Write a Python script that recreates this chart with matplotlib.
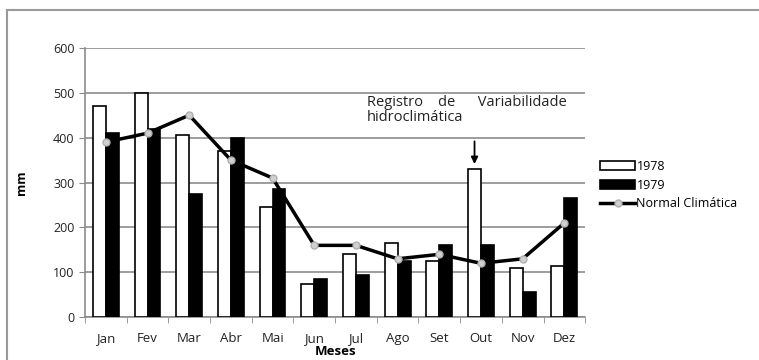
import numpy as np
import matplotlib
matplotlib.use("Agg")
import matplotlib.pyplot as plt
from matplotlib.patches import Rectangle

plt.rcParams['font.family'] = ['Open Sans', 'DejaVu Sans']

meses = ["Jan", "Fev", "Mar", "Abr", "Mai", "Jun", "Jul", "Ago", "Set", "Out", "Nov", "Dez"]
chuva_1978 = [470, 500, 405, 370, 245, 75, 140, 165, 125, 330, 110, 115]
chuva_1979 = [410, 420, 275, 400, 285, 85, 95, 125, 160, 160, 55, 265]
normal = [390, 410, 450, 350, 310, 160, 160, 130, 140, 120, 130, 210]

fig = plt.figure(figsize=(7.59, 3.6), dpi=100)
fig.patch.set_facecolor("white")

# moldura cinza da imagem original
fig.patches.append(Rectangle((7/759, -0.05), 1.1, 1 - 10/360 + 0.05, transform=fig.transFigure,
                             fill=False, edgecolor="#9a9a9a", linewidth=1.5))

ax = fig.add_axes([0.112, 0.119, 0.659, 0.748])

x = np.arange(len(meses))
w = 0.31
b1 = ax.bar(x - w/2, chuva_1978, w, color="white", edgecolor="black", linewidth=1.2, label="1978", zorder=3)
b2 = ax.bar(x + w/2, chuva_1979, w, color="black", edgecolor="black", linewidth=1.2, label="1979", zorder=3)
ln, = ax.plot(x, normal, color="black", linewidth=2.5, marker="o", markersize=5,
              markerfacecolor="#d0d0d0", markeredgecolor="#b0b0b0", label="Normal Climática", zorder=4)

ax.set_xlim(-0.5, len(meses) - 0.5)
ax.set_ylim(0, 600)
ax.set_yticks(range(0, 601, 100))
ax.yaxis.grid(True, color="#8c8c8c", linewidth=1.2, zorder=0)
ax.set_axisbelow(True)

ax.set_xticks(x)
ax.set_xticklabels(meses)
ax.set_xticks(np.arange(-0.5, len(meses), 1), minor=True)
ax.tick_params(axis="x", which="major", length=0, pad=11, labelsize=9.5, colors="#222222")
ax.tick_params(axis="x", which="minor", length=4, color="#8c8c8c")
ax.tick_params(axis="y", length=4, color="#8c8c8c", labelsize=9, colors="#222222")

for s in ["top", "right"]:
    ax.spines[s].set_visible(False)
for s in ["left", "bottom"]:
    ax.spines[s].set_color("#8c8c8c")
    ax.spines[s].set_linewidth(1.2)

ax.set_ylabel("mm", fontsize=9, fontweight="bold", labelpad=18)
ax.set_xlabel("Meses", fontsize=9.5, fontweight="bold", labelpad=0)

ax.text(6.27, 462, "Registro    de      Variabilidade\nhidroclimática", fontsize=10.5,
        ha="left", va="center", linespacing=0.95, color="#222222")
ax.annotate("", xy=(9 - w/2, chuva_1978[9] + 5), xytext=(9 - w/2, 398),
            arrowprops=dict(arrowstyle="-|>", color="black", lw=1.3, mutation_scale=10))

ax.legend([b1, b2, ln], ["1978", "1979", "Normal Climática"], loc="center left",
          bbox_to_anchor=(1.02, 0.49), frameon=False, fontsize=9,
          handlelength=2.8, handletextpad=0.1, labelspacing=0.45, borderaxespad=0)

fig.savefig("out.png", dpi=100)
